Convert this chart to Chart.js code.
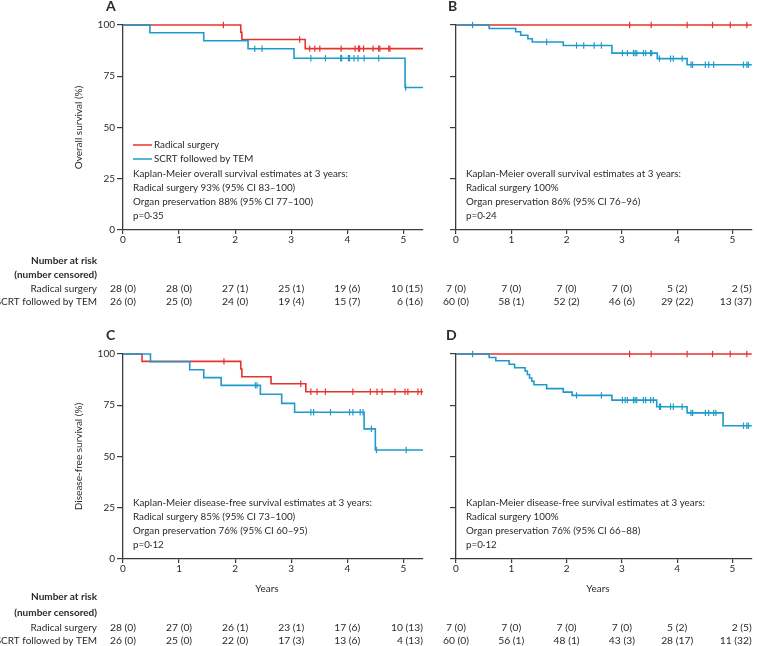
<!DOCTYPE html>
<html>
<head>
<meta charset="utf-8">
<script src="https://cdn.jsdelivr.net/npm/chart.js@4.4.1/dist/chart.umd.min.js"></script>
<style>
  html, body { margin: 0; padding: 0; background: #fff; }
  #wrap { position: relative; width: 757px; height: 646px; }
  #wrap canvas { position: absolute; left: 0; top: 0; }
</style>
</head>
<body>
<div id="wrap">
  <canvas id="panelA" width="757" height="646"></canvas>
  <canvas id="panelB" width="757" height="646"></canvas>
  <canvas id="panelC" width="757" height="646"></canvas>
  <canvas id="panelD" width="757" height="646"></canvas>
</div>
<script>
// ---------------------------
// Data
// ---------------------------
const yearTicks = [0, 1, 2, 3, 4, 5];
const pctTicks = [0, 25, 50, 75, 100];
const X_MAX = 5.35;
const groupLabels = ["Radical surgery", "SCRT followed by TEM"];

// A: overall survival, randomised patients
const osA_surgTimes = [0, 2.10, 2.12, 3.25];
const osA_surgValues = [100, 96.4, 92.9, 88.5];
const osA_surgCensored = [1.79, 3.15, 3.33, 3.42, 3.51, 3.89, 4.14, 4.20, 4.22, 4.29, 4.46, 4.56, 4.58, 4.74, 4.76];
const osA_temTimes = [0, 0.48, 1.44, 2.23, 3.05, 5.03];
const osA_temValues = [100, 96.2, 92.3, 88.4, 83.8, 69.5];
const osA_temCensored = [2.35, 2.48, 3.35, 3.61, 3.88, 3.90, 4.02, 4.04, 4.12, 4.19, 4.30, 4.56, 5.04];
const osA_riskSurg = ["28 (0)", "28 (0)", "27 (1)", "25 (1)", "19 (6)", "10 (15)"];
const osA_riskTem = ["26 (0)", "25 (0)", "24 (0)", "19 (4)", "15 (7)", "6 (16)"];

// B: overall survival, registry patients
const osB_surgTimes = [0];
const osB_surgValues = [100];
const osB_surgCensored = [3.14, 3.53, 4.18, 4.64, 4.96, 5.26];
const osB_temTimes = [0, 0.60, 1.08, 1.17, 1.30, 1.38, 1.94, 2.82, 3.64, 4.18];
const osB_temValues = [100, 98.3, 96.7, 95.0, 93.3, 91.7, 90.0, 86.3, 83.6, 80.6];
const osB_temCensored = [0.30, 1.64, 2.18, 2.31, 2.50, 2.63, 3.01, 3.10, 3.21, 3.24, 3.27, 3.39, 3.43, 3.52, 3.54, 3.68, 3.88, 3.93, 4.09, 4.25, 4.28, 4.51, 4.57, 4.66, 5.20, 5.26, 5.29];
const osB_riskSurg = ["7 (0)", "7 (0)", "7 (0)", "7 (0)", "5 (2)", "2 (5)"];
const osB_riskTem = ["60 (0)", "58 (1)", "52 (2)", "46 (6)", "29 (22)", "13 (37)"];

// C: disease-free survival, randomised patients
const dfsC_surgTimes = [0, 0.34, 2.10, 2.12, 2.64, 3.26];
const dfsC_surgValues = [100, 96.4, 92.7, 88.9, 85.5, 81.6];
const dfsC_surgCensored = [1.80, 3.17, 3.35, 3.46, 3.61, 4.10, 4.41, 4.53, 4.62, 4.85, 5.03, 5.08, 5.26, 5.32];
const dfsC_temTimes = [0, 0.49, 1.19, 1.44, 1.75, 2.45, 2.83, 3.06, 4.30, 4.50];
const dfsC_temValues = [100, 96.2, 92.3, 88.5, 84.7, 80.4, 75.9, 71.6, 63.5, 53.2];
const dfsC_temCensored = [2.36, 2.39, 3.35, 3.40, 3.70, 4.04, 4.10, 4.23, 4.28, 4.43, 4.52, 5.05];
const dfsC_riskSurg = ["28 (0)", "27 (0)", "26 (1)", "23 (1)", "17 (6)", "10 (13)"];
const dfsC_riskTem = ["26 (0)", "25 (0)", "22 (0)", "17 (3)", "13 (6)", "4 (13)"];

// D: disease-free survival, registry patients
const dfsD_surgTimes = [0];
const dfsD_surgValues = [100];
const dfsD_surgCensored = [3.14, 3.53, 4.18, 4.64, 4.96, 5.26];
const dfsD_temTimes = [0, 0.60, 0.72, 0.96, 1.06, 1.25, 1.29, 1.33, 1.37, 1.41, 1.64, 1.94, 2.10, 2.82, 3.63, 4.18, 4.83];
const dfsD_temValues = [100, 98.3, 96.7, 95.0, 93.3, 91.7, 90.0, 88.3, 86.7, 85.0, 83.1, 81.4, 79.8, 77.5, 74.3, 71.3, 65.0];
const dfsD_temCensored = [0.30, 2.18, 2.63, 3.01, 3.06, 3.10, 3.21, 3.24, 3.27, 3.39, 3.43, 3.52, 3.57, 3.68, 3.70, 3.88, 3.93, 4.09, 4.25, 4.28, 4.51, 4.57, 4.66, 4.70, 5.20, 5.26, 5.29];
const dfsD_riskSurg = ["7 (0)", "7 (0)", "7 (0)", "7 (0)", "5 (2)", "2 (5)"];
const dfsD_riskTem = ["60 (0)", "56 (1)", "48 (1)", "43 (3)", "28 (17)", "11 (32)"];

// ---------------------------
// Style
// ---------------------------
const RED = "#e6332c";
const BLUE = "#1f9bcb";
const INK = "#2a2a2a";
const AXIS = "#3c3c3c";
const FONT = "Lato";

// ---------------------------
// Helpers
// ---------------------------
function stepPoints(times, values) {
  const pts = times.map((t, i) => ({ x: t, y: values[i] }));
  pts.push({ x: X_MAX, y: values[values.length - 1] });
  return pts;
}

function valueAt(times, values, t) {
  let v = values[0];
  for (let i = 0; i < times.length; i++) {
    if (times[i] <= t) v = values[i];
  }
  return v;
}

function censorPoints(cens, times, values) {
  return cens.map((t) => ({ x: t, y: valueAt(times, values, t) }));
}

// draws letters, titles, legend, estimates and number-at-risk table
const panelText = {
  id: "panelText",
  afterDraw(chart, args, o) {
    const ctx = chart.ctx;
    const a = chart.chartArea;
    const x = chart.scales.x;
    ctx.save();
    ctx.fillStyle = INK;
    ctx.textBaseline = "middle";

    ctx.font = `bold 14px ${FONT}`;
    ctx.textAlign = "left";
    ctx.fillText(o.letter, a.left + o.letterDx, a.top - 19);

    if (o.yTitle) {
      ctx.save();
      ctx.translate(79, (a.top + a.bottom) / 2);
      ctx.rotate(-Math.PI / 2);
      ctx.textAlign = "center";
      ctx.font = `10px ${FONT}`;
      ctx.fillText(o.yTitle, 0, 0);
      ctx.restore();
    }

    if (o.xTitle) {
      ctx.textAlign = "center";
      ctx.font = `10px ${FONT}`;
      ctx.fillText(o.xTitle, (a.left + a.right) / 2 - 6, a.bottom + 30);
    }

    ctx.font = `9.8px ${FONT}`;
    ctx.textAlign = "left";
    if (o.legend) {
      const sets = [chart.data.datasets[1], chart.data.datasets[0]];
      sets.forEach((ds, i) => {
        const y = a.top + 120 + i * 14;
        ctx.strokeStyle = ds.borderColor;
        ctx.lineWidth = 1.5;
        ctx.beginPath();
        ctx.moveTo(a.left + 10, y);
        ctx.lineTo(a.left + 29, y);
        ctx.stroke();
        ctx.fillText(ds.label, a.left + 31, y);
      });
    }

    o.notes.forEach((line, i) => {
      ctx.fillText(line, a.left + 10, a.top + 149 + i * 14);
    });

    // number at risk
    const r = o.riskRows;
    if (o.riskHeads) {
      ctx.textAlign = "right";
      ctx.font = `bold 10px ${FONT}`;
      ctx.fillText("Number at risk", 97, a.bottom + r[0]);
      ctx.fillText("(number censored)", 97, a.bottom + r[1]);
      ctx.font = `10px ${FONT}`;
      ctx.fillText(groupLabels[0], 97, a.bottom + r[2]);
      ctx.fillText(groupLabels[1], 97, a.bottom + r[3]);
    }
    ctx.font = `10.3px ${FONT}`;
    [o.riskSurg, o.riskTem].forEach((row, k) => {
      row.forEach((txt, i) => {
        const last = i === row.length - 1;
        ctx.textAlign = last ? "right" : "center";
        const px = last ? a.right : x.getPixelForValue(yearTicks[i]);
        ctx.fillText(txt, px, a.bottom + r[2 + k]);
      });
    });
    ctx.restore();
  },
};

function makePanel(id, cfg) {
  const tickFont = { family: FONT, size: 10 };
  return new Chart(document.getElementById(id), {
    type: "line",
    data: {
      datasets: [
        {
          label: groupLabels[1],
          data: stepPoints(cfg.temTimes, cfg.temValues),
          stepped: true,
          borderColor: BLUE,
          borderWidth: 1.6,
          pointRadius: 0,
          fill: false,
          clip: false,
        },
        {
          label: groupLabels[0],
          data: stepPoints(cfg.surgTimes, cfg.surgValues),
          stepped: true,
          borderColor: RED,
          borderWidth: 1.6,
          pointRadius: 0,
          fill: false,
          clip: false,
        },
        {
          label: "tem censored",
          data: censorPoints(cfg.temCens, cfg.temTimes, cfg.temValues),
          showLine: false,
          pointStyle: "line",
          rotation: 90,
          pointRadius: 3.2,
          pointBorderWidth: 1.2,
          borderColor: BLUE,
          clip: false,
        },
        {
          label: "surg censored",
          data: censorPoints(cfg.surgCens, cfg.surgTimes, cfg.surgValues),
          showLine: false,
          pointStyle: "line",
          rotation: 90,
          pointRadius: 3.2,
          pointBorderWidth: 1.2,
          borderColor: RED,
          clip: false,
        },
      ],
    },
    options: {
      responsive: false,
      animation: false,
      events: [],
      layout: {
        padding: { left: cfg.left - 123, right: 757 - cfg.right, top: cfg.top, bottom: 646 - cfg.bottom - 20 },
      },
      scales: {
        x: {
          type: "linear",
          min: 0,
          max: X_MAX,
          afterFit: (s) => { s.height = 20; },
          afterBuildTicks: (s) => { s.ticks = yearTicks.map((v) => ({ value: v })); },
          grid: { drawOnChartArea: false, drawTicks: true, tickLength: 4, color: AXIS, lineWidth: 1.2 },
          border: { color: AXIS, width: 1.3 },
          ticks: { color: INK, font: tickFont, padding: 0, maxRotation: 0 },
        },
        y: {
          min: 0,
          max: 100,
          afterFit: (s) => { s.width = 123; },
          afterBuildTicks: (s) => { s.ticks = pctTicks.map((v) => ({ value: v })); },
          grid: { drawOnChartArea: false, drawTicks: true, tickLength: 6, color: AXIS, lineWidth: 1.2 },
          border: { color: AXIS, width: 1.3 },
          ticks: { display: cfg.yLabels, color: INK, font: tickFont, padding: 2 },
        },
      },
      plugins: {
        legend: { display: false },
        tooltip: { enabled: false },
        panelText: cfg.text,
      },
    },
    plugins: [panelText],
  });
}

// ---------------------------
// Panels
// ---------------------------
makePanel("panelA", {
  left: 123, right: 423, top: 25, bottom: 230, yLabels: true,
  surgTimes: osA_surgTimes, surgValues: osA_surgValues, surgCens: osA_surgCensored,
  temTimes: osA_temTimes, temValues: osA_temValues, temCens: osA_temCensored,
  text: {
    letter: "A", letterDx: -17, yTitle: "Overall survival (%)", legend: true,
    notes: [
      "Kaplan-Meier overall survival estimates at 3 years:",
      "Radical surgery 93% (95% CI 83–100)",
      "Organ preservation 88% (95% CI 77–100)",
      "p=0·35",
    ],
    riskHeads: true, riskRows: [31, 45, 59, 72], riskSurg: osA_riskSurg, riskTem: osA_riskTem,
  },
});

makePanel("panelB", {
  left: 456, right: 756, top: 25, bottom: 230, yLabels: false,
  surgTimes: osB_surgTimes, surgValues: osB_surgValues, surgCens: osB_surgCensored,
  temTimes: osB_temTimes, temValues: osB_temValues, temCens: osB_temCensored,
  text: {
    letter: "B", letterDx: -8,
    notes: [
      "Kaplan-Meier overall survival estimates at 3 years:",
      "Radical surgery 100%",
      "Organ preservation 86% (95% CI 76–96)",
      "p=0·24",
    ],
    riskHeads: false, riskRows: [31, 45, 59, 72], riskSurg: osB_riskSurg, riskTem: osB_riskTem,
  },
});

makePanel("panelC", {
  left: 123, right: 423, top: 354, bottom: 559, yLabels: true,
  surgTimes: dfsC_surgTimes, surgValues: dfsC_surgValues, surgCens: dfsC_surgCensored,
  temTimes: dfsC_temTimes, temValues: dfsC_temValues, temCens: dfsC_temCensored,
  text: {
    letter: "C", letterDx: -17, yTitle: "Disease-free survival (%)", xTitle: "Years",
    notes: [
      "Kaplan-Meier disease-free survival estimates at 3 years:",
      "Radical surgery 85% (95% CI 73–100)",
      "Organ preservation 76% (95% CI 60–95)",
      "p=0·12",
    ],
    riskHeads: true, riskRows: [38, 54, 69, 82], riskSurg: dfsC_riskSurg, riskTem: dfsC_riskTem,
  },
});

makePanel("panelD", {
  left: 456, right: 756, top: 354, bottom: 559, yLabels: false,
  surgTimes: dfsD_surgTimes, surgValues: dfsD_surgValues, surgCens: dfsD_surgCensored,
  temTimes: dfsD_temTimes, temValues: dfsD_temValues, temCens: dfsD_temCensored,
  text: {
    letter: "D", letterDx: -10, xTitle: "Years",
    notes: [
      "Kaplan-Meier disease-free survival estimates at 3 years:",
      "Radical surgery 100%",
      "Organ preservation 76% (95% CI 66–88)",
      "p=0·12",
    ],
    riskHeads: false, riskRows: [38, 54, 69, 82], riskSurg: dfsD_riskSurg, riskTem: dfsD_riskTem,
  },
});
</script>
</body>
</html>
